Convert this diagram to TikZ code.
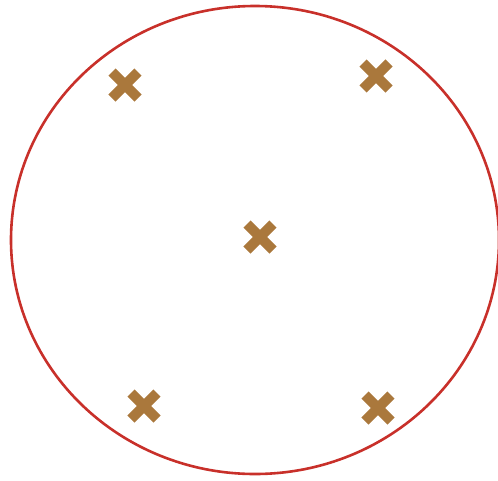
\documentclass[tikz,border=0pt]{standalone}
\definecolor{ringred}{RGB}{200,48,42}
\definecolor{crossbrown}{RGB}{170,120,60}
\tikzset{
  ring/.style={draw=ringred,line width=2.6pt},
  crossarm/.style={draw=crossbrown,line width=10pt,line cap=butt},
}
\begin{document}
\begin{tikzpicture}[x=1pt,y=-1pt]
\useasboundingbox (0,0) rectangle (498,480);
\draw[ring] (255,240) ellipse [x radius=244, y radius=234];
\foreach \cx/\cy in {125/85, 376/76, 260/237, 144/406, 378/408}{
  \draw[crossarm] (\cx-13,\cy-13) -- (\cx+13,\cy+13);
  \draw[crossarm] (\cx-13,\cy+13) -- (\cx+13,\cy-13);
}
\end{tikzpicture}
\end{document}
